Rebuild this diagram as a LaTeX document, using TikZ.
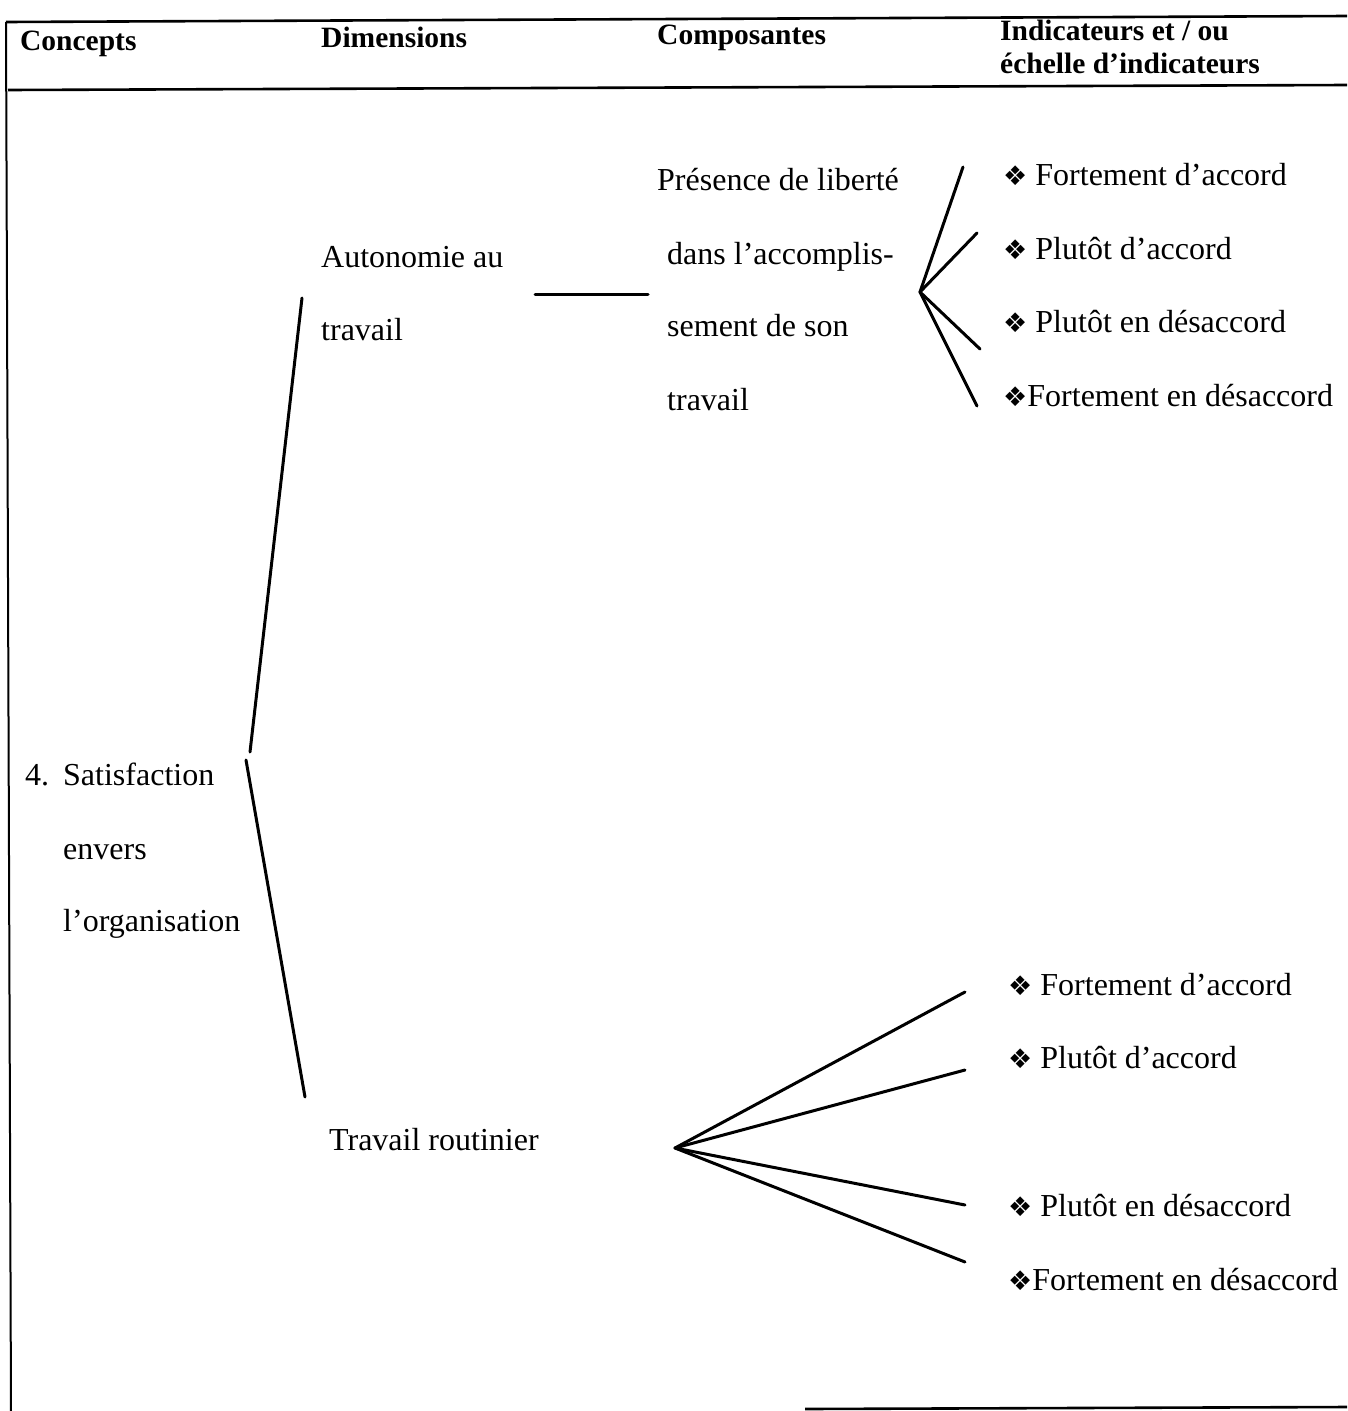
\documentclass[tikz,border=0pt]{standalone}
\usepackage{fontspec}
\setmainfont{Liberation Serif}
\newfontfamily\symfont{DejaVu Sans}
\newcommand\dia{{\symfont\fontsize{27}{30}\selectfont ❖}}
\begin{document}
\begin{tikzpicture}[x=1pt,y=-1pt,
  txt/.style={anchor=base west,inner sep=0pt,font=\fontsize{32}{38}\selectfont},
  hdr/.style={anchor=base west,inner sep=0pt,font=\fontsize{29.5}{34}\selectfont\bfseries},
  rule/.style={line width=2.6pt},
  link/.style={line width=3pt,line cap=round}]
\useasboundingbox (0,0) rectangle (1347,1411);
% table frame
\coordinate (tl) at (6,22);
\coordinate (tr) at (1347,16);
\coordinate (hl) at (8,90);
\coordinate (hr) at (1347,85);
\coordinate (bl) at (11,1411);
\coordinate (bb1) at (805,1409);
\coordinate (bb2) at (1347,1407);
\draw[rule] (tl) -- (tr);
\draw[rule] (hl) -- (hr);
\draw[line width=2pt] (tl) -- (bl);
\draw[rule] (bb1) -- (bb2);
% headers
\node[hdr] (h1) at (20,50) {Concepts};
\node[hdr] (h2) at (321,47) {Dimensions};
\node[hdr] (h3) at (657,44) {Composantes};
\node[hdr] (h4a) at (1000,40) {Indicateurs et / ou};
\node[hdr] (h4b) at (1000,73) {échelle d’indicateurs};
% concept
\node[txt] (num) at (25,785) {4.};
\node[txt] (c1) at (63,785) {Satisfaction};
\node[txt] (c2) at (63,859) {envers};
\node[txt] (c3) at (63,931) {l’organisation};
% dimensions
\node[txt] (d1a) at (321,267) {Autonomie au};
\node[txt] (d1b) at (321,340) {travail};
\node[txt] (d2) at (329,1150) {Travail routinier};
% composante
\node[txt] (p1) at (657,190) {Présence de liberté};
\node[txt] (p2) at (667,264) {dans l’accomplis-};
\node[txt] (p3) at (667,336) {sement de son};
\node[txt] (p4) at (667,410) {travail};
% indicators upper
\node[txt] (u1) at (1003,185) {\dia\ Fortement d’accord};
\node[txt] (u2) at (1003,259) {\dia\ Plutôt d’accord};
\node[txt] (u3) at (1003,332) {\dia\ Plutôt en désaccord};
\node[txt] (u4) at (1003,406) {\dia Fortement en désaccord};
% indicators lower
\node[txt] (l1) at (1008,995) {\dia\ Fortement d’accord};
\node[txt] (l2) at (1008,1068) {\dia\ Plutôt d’accord};
\node[txt] (l3) at (1008,1216) {\dia\ Plutôt en désaccord};
\node[txt] (l4) at (1008,1290) {\dia Fortement en désaccord};
% connector coordinates
\coordinate (a1) at (302,298);
\coordinate (a2) at (250,752);
\coordinate (b1) at (246,760);
\coordinate (b2) at (305,1097);
\coordinate (s1) at (535,294);
\coordinate (s2) at (648,294);
\coordinate (v) at (920,292);
\coordinate (ve1) at (963,167);
\coordinate (ve2) at (977,233);
\coordinate (ve3) at (980,349);
\coordinate (ve4) at (977,406);
\coordinate (w) at (675,1148);
\coordinate (we1) at (965,992);
\coordinate (we2) at (965,1070);
\coordinate (we3) at (965,1205);
\coordinate (we4) at (965,1262);
\draw[link] (a1) -- (a2);
\draw[link] (b1) -- (b2);
\draw[link] (s1) -- (s2);
\foreach \e in {ve1,ve2,ve3,ve4} \draw[link] (v) -- (\e);
\foreach \e in {we1,we2,we3,we4} \draw[link] (w) -- (\e);
\end{tikzpicture}
\end{document}
